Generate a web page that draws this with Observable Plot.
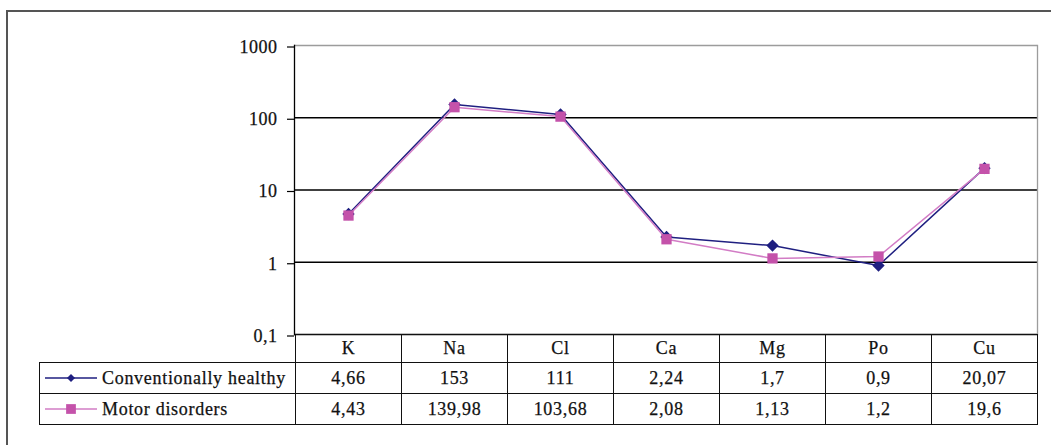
<!DOCTYPE html>
<html>
<head>
<meta charset="utf-8">
<script src="https://cdn.jsdelivr.net/npm/d3@7"></script>
<script src="https://cdn.jsdelivr.net/npm/@observablehq/plot@0.6"></script>
<style>
  html, body { margin: 0; padding: 0; background: #fff; overflow: hidden; }
  body {
    width: 1051px; height: 445px; position: relative;
    font-family: "Liberation Serif", "Times New Roman", serif;
  }
  #border {
    position: absolute; left: 6px; top: 10px; width: 1100px; height: 500px;
    border-left: 2px solid #555; border-top: 2px solid #555;
  }
  #chart { position: absolute; left: 0; top: 0; }
  #chart svg text {
    letter-spacing: 0.5px; font-family: "Liberation Serif", "Times New Roman", serif;
    fill: #111; stroke: #111; stroke-width: 0.25px;
  }
  .cell {
    position: absolute; box-sizing: border-box; border: 1px solid #111;
    display: flex; align-items: center; justify-content: center;
    font-size: 18px; letter-spacing: 0.7px; color: #111; white-space: nowrap;
    -webkit-text-stroke: 0.25px #111;
  }
  .legend { justify-content: flex-start; }
  .legend svg { margin: 0 5px 0 5px; flex: none; }
</style>
</head>
<body>
<div id="border"></div>
<div id="chart"></div>
<div id="table"></div>
<script>
// Electrolyte and trace-element levels per group (log scale)
const elements = ["K", "Na", "Cl", "Ca", "Mg", "Po", "Cu"];
const healthy = [4.66, 153, 111, 2.24, 1.7, 0.9, 20.07];
const motor = [4.43, 139.98, 103.68, 2.08, 1.13, 1.2, 19.6];
const seriesNames = ["Conventionally healthy", "Motor disorders"];
const yTicks = [0.1, 1, 10, 100, 1000];

const navy = "#1f1f80";
const pinkMarker = "#c452aa";
const pinkLine = "#d27cc5";

const fmt = v => String(v).replace(".", ",");

const healthyRows = elements.map((e, i) => ({element: e, value: healthy[i]}));
const motorRows = elements.map((e, i) => ({element: e, value: motor[i]}));

const plot = Plot.plot({
  width: 1051,
  height: 336,
  marginLeft: 294,
  marginRight: 14,
  marginTop: 45,
  marginBottom: 2,
  style: {fontFamily: "Liberation Serif, Times New Roman, serif", fontSize: "18px", color: "#111", background: "transparent", overflow: "visible"},
  x: {type: "point", domain: elements, padding: 0.5, axis: null},
  y: {type: "log", domain: [0.1, 1000], axis: null},
  marks: [
    Plot.ruleY(yTicks.slice(0, 4), {stroke: "#000", strokeWidth: 1.3}),
    Plot.ruleY([1000], {stroke: "#9c9c9c", strokeWidth: 1.3}),
    Plot.frame({anchor: "right", stroke: "#9c9c9c", strokeWidth: 1.3}),
    Plot.frame({anchor: "left", stroke: "#000", strokeWidth: 1.3}),
    Plot.axisY({ticks: yTicks, tickFormat: fmt, tickSize: 7, tickPadding: 10, label: null, stroke: "#000", strokeWidth: 1.2, dy: 1.5}),
    Plot.line(healthyRows, {x: "element", y: "value", stroke: navy, strokeWidth: 1.5}),
    Plot.dot(healthyRows, {x: "element", y: "value", symbol: "diamond2", r: 4.6, fill: navy, stroke: navy}),
    Plot.line(motorRows, {x: "element", y: "value", stroke: pinkLine, strokeWidth: 1.5}),
    Plot.dot(motorRows, {x: "element", y: "value", symbol: "square", r: 5.8, fill: pinkMarker, stroke: "none"})
  ]
});
document.getElementById("chart").appendChild(plot);

// Data table under the plot, columns aligned to the x scale
const x = plot.scale("x");
const step = x.apply(elements[1]) - x.apply(elements[0]);
const tableTop = 334;
const rowTops = [tableTop, 362, 393, 424];
const legendLeft = 39;
const table = document.getElementById("table");

function addCell(left, top, right, bottom, cls) {
  const div = document.createElement("div");
  div.className = "cell" + (cls ? " " + cls : "");
  div.style.left = Math.round(left) + "px";
  div.style.top = Math.round(top) + "px";
  div.style.width = (Math.round(right) - Math.round(left) + 1) + "px";
  div.style.height = (Math.round(bottom) - Math.round(top) + 1) + "px";
  table.appendChild(div);
  return div;
}

const rowValues = [elements, healthy.map(fmt), motor.map(fmt)];
elements.forEach((e, i) => {
  const cx = x.apply(e);
  rowValues.forEach((vals, r) => {
    addCell(cx - step / 2, rowTops[r], cx + step / 2, rowTops[r + 1]).textContent = vals[i];
  });
});

// Legend keys in the first column
const keys = [
  {name: seriesNames[0], line: navy, fill: navy, symbol: d3.symbolDiamond2, size: 42},
  {name: seriesNames[1], line: pinkLine, fill: pinkMarker, symbol: d3.symbolSquare, size: 95}
];
keys.forEach((k, r) => {
  const cell = addCell(legendLeft, rowTops[r + 1], x.apply(elements[0]) - step / 2, rowTops[r + 2], "legend");
  const svg = d3.create("svg").attr("width", 52).attr("height", 14);
  svg.append("line").attr("x1", 0).attr("x2", 52).attr("y1", 7).attr("y2", 7)
    .attr("stroke", k.line).attr("stroke-width", 1.4);
  svg.append("path").attr("transform", "translate(26,7)")
    .attr("d", d3.symbol(k.symbol, k.size)()).attr("fill", k.fill);
  cell.appendChild(svg.node());
  const span = document.createElement("span");
  span.textContent = k.name;
  cell.appendChild(span);
});
</script>
</body>
</html>
